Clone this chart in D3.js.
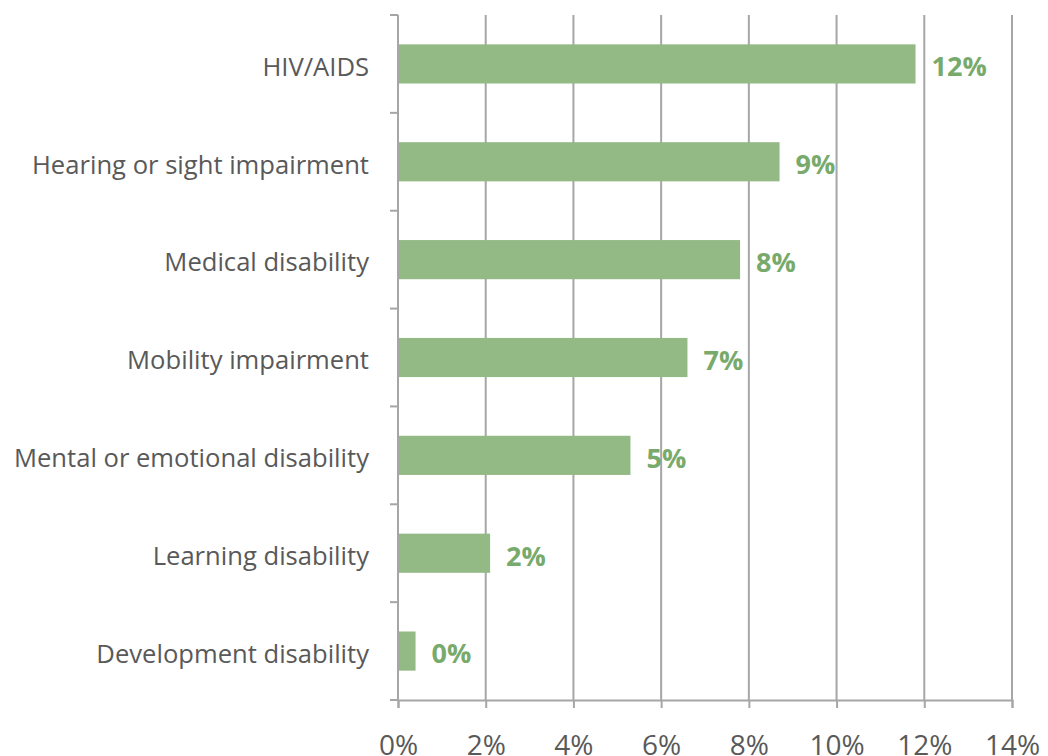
<!DOCTYPE html>
<html>
<head>
<meta charset="utf-8">
<script src="https://cdn.jsdelivr.net/npm/d3@7"></script>
<style>
  body { margin: 0; background: #fff; }
  svg { display: block; }
</style>
</head>
<body>
<svg id="chart"></svg>
<script>
// data
const categories = ["HIV/AIDS", "Hearing or sight impairment", "Medical disability",
  "Mobility impairment", "Mental or emotional disability", "Learning disability",
  "Development disability"];
const values = [11.8, 8.7, 7.8, 6.6, 5.3, 2.1, 0.4];
const valueLabels = ["12%", "9%", "8%", "7%", "5%", "2%", "0%"];
const xTicks = [0, 2, 4, 6, 8, 10, 12, 14];

const width = 1048, height = 756;
const margin = { top: 15, right: 36, bottom: 56, left: 398 };
const innerW = width - margin.left - margin.right;
const innerH = height - margin.top - margin.bottom;
const gridColor = "#a6a6a6";
const textColor = "#595959";
const font = "'Open Sans', sans-serif";

const svg = d3.select("#chart").attr("width", width).attr("height", height);
const g = svg.append("g").attr("transform", `translate(${margin.left},${margin.top})`);

const x = d3.scaleLinear().domain([0, 14]).range([0, innerW]);
const y = d3.scaleBand().domain(categories).range([0, innerH]).paddingInner(0.6).paddingOuter(0.3);

// vertical grid lines
g.append("g")
  .selectAll("line")
  .data(xTicks.slice(1))
  .enter().append("line")
  .attr("x1", d => x(d)).attr("x2", d => x(d))
  .attr("y1", 0).attr("y2", innerH)
  .attr("stroke", gridColor).attr("stroke-width", 2);

// bars
g.append("g")
  .selectAll("rect")
  .data(values)
  .enter().append("rect")
  .attr("x", 0)
  .attr("y", (d, i) => y(categories[i]))
  .attr("width", d => x(d))
  .attr("height", y.bandwidth())
  .attr("fill", "#93b985");

// value labels
g.append("g")
  .selectAll("text")
  .data(values)
  .enter().append("text")
  .attr("x", d => x(d) + 16)
  .attr("y", (d, i) => y(categories[i]) + y.bandwidth() / 2)
  .attr("dy", "0.46em")
  .attr("fill", "#78aa6c")
  .style("font-family", font)
  .style("font-weight", "bold")
  .style("font-size", "27px")
  .text((d, i) => valueLabels[i]);

// x axis
const xAxis = g.append("g")
  .attr("transform", `translate(0,${innerH})`)
  .call(d3.axisBottom(x).tickValues(xTicks).tickSize(8).tickPadding(27).tickFormat(d => d + "%"));
xAxis.select(".domain").attr("stroke", gridColor).attr("stroke-width", 2);
xAxis.selectAll(".tick line").attr("stroke", gridColor).attr("stroke-width", 2);
xAxis.selectAll(".tick text")
  .attr("fill", textColor)
  .style("font-family", font)
  .style("font-size", "28px");

// y axis: line plus ticks at category boundaries
const yAxis = g.append("g");
yAxis.append("line")
  .attr("x1", 0).attr("x2", 0).attr("y1", 0).attr("y2", innerH)
  .attr("stroke", gridColor).attr("stroke-width", 2);
yAxis.selectAll(".btick")
  .data(d3.range(categories.length + 1))
  .enter().append("line")
  .attr("class", "btick")
  .attr("x1", -8).attr("x2", 0)
  .attr("y1", d => d * innerH / categories.length)
  .attr("y2", d => d * innerH / categories.length)
  .attr("stroke", gridColor).attr("stroke-width", 2);
yAxis.selectAll("text")
  .data(categories)
  .enter().append("text")
  .attr("x", -29)
  .attr("y", d => y(d) + y.bandwidth() / 2)
  .attr("dy", "0.46em")
  .attr("text-anchor", "end")
  .attr("fill", textColor)
  .style("font-family", font)
  .style("font-size", "25.6px")
  .text(d => d);
</script>
</body>
</html>
